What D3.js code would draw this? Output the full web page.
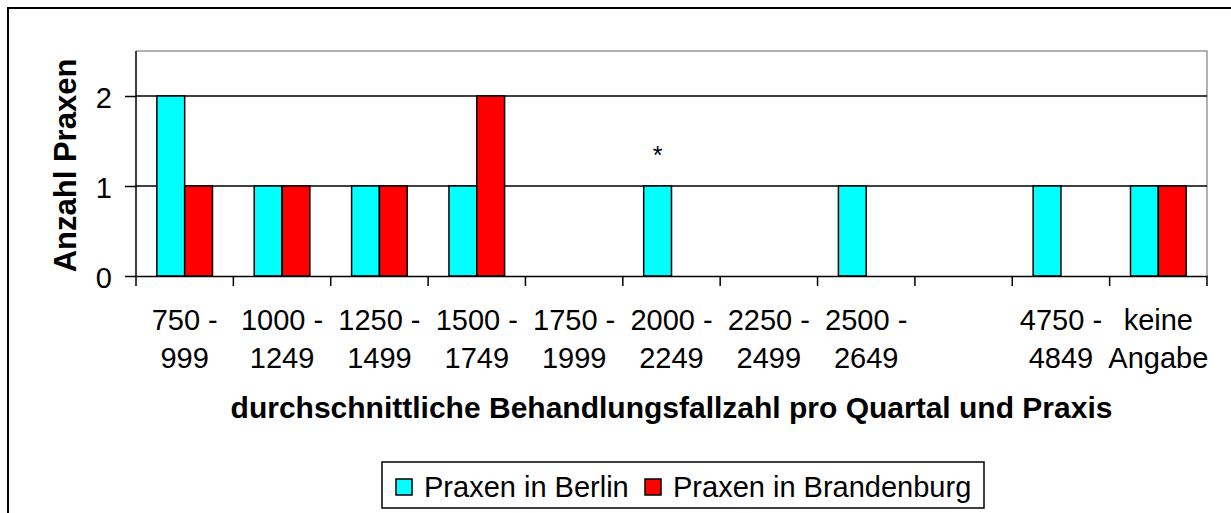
<!DOCTYPE html>
<html>
<head>
<meta charset="utf-8">
<script src="https://cdn.jsdelivr.net/npm/d3@7"></script>
<style>
  html, body { margin: 0; padding: 0; background: #fff; }
  svg { display: block; font-family: Arial, "Liberation Sans", sans-serif; }
</style>
</head>
<body>
<svg id="chart" width="1231" height="513"></svg>
<script>
// Behandlungsfallzahl chart - grouped bars, Berlin vs. Brandenburg

// ---------------------------------------------------------------------------
// DATA
// ---------------------------------------------------------------------------

const categories = [
  ['750 -', '999'], ['1000 -', '1249'], ['1250 -', '1499'], ['1500 -', '1749'],
  ['1750 -', '1999'], ['2000 -', '2249'], ['2250 -', '2499'], ['2500 -', '2649'],
  ['', ''], ['4750 -', '4849'], ['keine', 'Angabe']
];
const seriesNames = ['Praxen in Berlin', 'Praxen in Brandenburg'];
const berlin      = [2, 1, 1, 1, 0, 1, 0, 1, 0, 1, 1];
const brandenburg = [1, 1, 1, 2, 0, 0, 0, 0, 0, 0, 1];
const yTicks = [0, 1, 2];
const markedCategory = 5;   // "*" above the Berlin bar

const COLORS = ['#00ffff', '#ff0000'];

// ---------------------------------------------------------------------------
// LAYOUT
// ---------------------------------------------------------------------------

const svg = d3.select('#chart');
const plot = { left: 136, right: 1207, top: 51, bottom: 276 };

// outer chart frame (runs off the right/bottom of the picture)
svg.append('rect')
  .attr('x', 8).attr('y', 8).attr('width', 1260).attr('height', 540)
  .attr('fill', 'none').attr('stroke', '#000').attr('stroke-width', 2);

const x = d3.scaleBand()
  .domain(d3.range(categories.length))
  .range([plot.left, plot.right]);
const gapRatio = 1.5; // excel gap width 150 %
const barW = x.bandwidth() / (2 + gapRatio);
const xSub = d3.scaleBand().domain([0, 1])
  .range([barW * gapRatio / 2, barW * gapRatio / 2 + 2 * barW]);

const y = d3.scaleLinear().domain([0, 2.5]).range([plot.bottom, plot.top]);

// plot area frame (top and right in grey)
svg.append('path')
  .attr('d', `M${plot.left},${plot.top}H${plot.right}V${plot.bottom}`)
  .attr('fill', 'none').attr('stroke', '#999').attr('stroke-width', 1.5);

// gridlines
svg.append('g').selectAll('line')
  .data(yTicks.filter(d => d > 0))
  .join('line')
  .attr('x1', plot.left).attr('x2', plot.right)
  .attr('y1', d => y(d)).attr('y2', d => y(d))
  .attr('stroke', '#000').attr('stroke-width', 1.5);

// ---------------------------------------------------------------------------
// BARS
// ---------------------------------------------------------------------------

const rows = categories.map((c, i) => [berlin[i], brandenburg[i]]);

const groups = svg.append('g').selectAll('g')
  .data(rows)
  .join('g')
  .attr('transform', (d, i) => `translate(${x(i)},0)`);

groups.selectAll('rect')
  .data(d => d.map((v, s) => ({ v, s })).filter(e => e.v > 0))
  .join('rect')
  .attr('x', d => xSub(d.s))
  .attr('width', xSub.bandwidth())
  .attr('y', d => y(d.v))
  .attr('height', d => y(0) - y(d.v))
  .attr('fill', d => COLORS[d.s])
  .attr('stroke', '#000').attr('stroke-width', 1.5);

svg.append('text')
  .attr('x', x(markedCategory) + xSub(0) + xSub.bandwidth() / 2)
  .attr('y', y(berlin[markedCategory]) - 22)
  .attr('text-anchor', 'middle')
  .attr('font-size', 25)
  .text('*');

// ---------------------------------------------------------------------------
// AXES
// ---------------------------------------------------------------------------

const yAxis = svg.append('g')
  .attr('transform', `translate(${plot.left},0)`)
  .call(d3.axisLeft(y).tickValues(yTicks).tickFormat(d3.format('d')).tickSize(11).tickPadding(13));
yAxis.select('.domain').attr('d', `M0,${plot.top}V${plot.bottom}`).attr('stroke-width', 1.5);
yAxis.selectAll('.tick line').attr('stroke-width', 1.5);
yAxis.selectAll('.tick text').attr('font-size', 29).attr('font-family', null).attr('dy', '0.4em');

const xAxis = svg.append('g')
  .attr('transform', `translate(0,${plot.bottom})`)
  .call(d3.axisBottom(x).tickValues([]).tickSizeOuter(0));
xAxis.select('.domain').attr('stroke-width', 1.5);

// ticks sit on the band boundaries
svg.append('g').selectAll('line')
  .data(d3.range(categories.length + 1))
  .join('line')
  .attr('x1', i => plot.left + i * x.step()).attr('x2', i => plot.left + i * x.step())
  .attr('y1', plot.bottom).attr('y2', plot.bottom + 10)
  .attr('stroke', '#000').attr('stroke-width', 1.5);

const xLabels = svg.append('g').selectAll('text')
  .data(categories)
  .join('text')
  .attr('text-anchor', 'middle')
  .attr('font-size', 29);
xLabels.append('tspan')
  .attr('x', (d, i) => x(i) + x.bandwidth() / 2).attr('y', 330)
  .text(d => d[0]);
xLabels.append('tspan')
  .attr('x', (d, i) => x(i) + x.bandwidth() / 2).attr('y', 368)
  .text(d => d[1]);

svg.append('text')
  .attr('x', (plot.left + plot.right) / 2).attr('y', 418)
  .attr('text-anchor', 'middle')
  .attr('font-size', 30).attr('font-weight', 'bold')
  .text('durchschnittliche Behandlungsfallzahl pro Quartal und Praxis');

svg.append('text')
  .attr('transform', `translate(76,${(plot.top + plot.bottom) / 2 + 2}) rotate(-90)`)
  .attr('text-anchor', 'middle')
  .attr('font-size', 31).attr('font-weight', 'bold')
  .text('Anzahl Praxen');

// ---------------------------------------------------------------------------
// LEGEND
// ---------------------------------------------------------------------------

const legend = svg.append('g');
legend.append('rect')
  .attr('x', 382).attr('y', 462).attr('width', 602).attr('height', 46)
  .attr('fill', '#fff').attr('stroke', '#000').attr('stroke-width', 1.5);

const legendX = [396, 645];
const items = legend.selectAll('g.item')
  .data(seriesNames)
  .join('g')
  .attr('class', 'item')
  .attr('transform', (d, i) => `translate(${legendX[i]},479)`);
items.append('rect')
  .attr('width', 16).attr('height', 16)
  .attr('fill', (d, i) => COLORS[i])
  .attr('stroke', '#000').attr('stroke-width', 1.5);
items.append('text')
  .attr('x', 28).attr('y', 18)
  .attr('font-size', 29)
  .text(d => d);
</script>
</body>
</html>
